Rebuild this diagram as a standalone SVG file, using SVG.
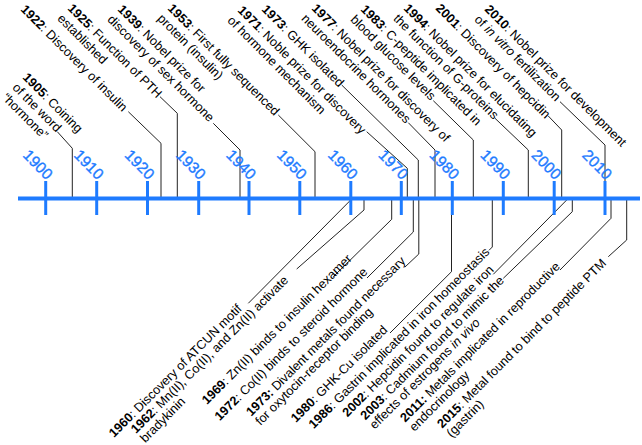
<svg xmlns="http://www.w3.org/2000/svg" width="642" height="445" viewBox="0 0 642 445">
<style>
.ev{font-family:"Liberation Sans",Arial,sans-serif;font-size:12.7px;fill:#000}
.yr{font-weight:bold}
.it{font-style:italic}
.lbl{font-family:"Liberation Sans",Arial,sans-serif;font-size:15.5px;fill:#1e7bff;stroke:#1e7bff;stroke-width:0.35;text-anchor:end}
.ld{fill:none;stroke:#222;stroke-width:1}
.ax{stroke:#1e7bff;stroke-width:4;fill:none}
.tk{stroke:#1e7bff;stroke-width:3;fill:none}
</style>
<rect width="642" height="445" fill="#fff"/>
<g id="connectors">
<polyline class="ld" points="72.3,197 72.3,148.3 57.3,131.7"/>
<polyline class="ld" points="161,197 161,143.3 128.3,111.7"/>
<polyline class="ld" points="177.3,197 177.3,113.3 160,96.7"/>
<polyline class="ld" points="240,197 240,150 213.3,123.3"/>
<polyline class="ld" points="315,197 315,151.7 278.3,115"/>
<polyline class="ld" points="407.3,197 407.3,168.3 366.7,131.7"/>
<polyline class="ld" points="418.3,197 418.3,160 341.7,85"/>
<polyline class="ld" points="435,197 435,150 408.3,122.7"/>
<polyline class="ld" points="473.3,197 473.3,140 433.3,100.7"/>
<polyline class="ld" points="528.3,197 528.3,150 495,118.3"/>
<polyline class="ld" points="561.7,197 561.7,130 548.3,116"/>
<polyline class="ld" points="605,197 605,145 560,101.7"/>
<polyline class="ld" points="350.7,200 248.3,303.3"/>
<polyline class="ld" points="364,200 364,210 296.7,269"/>
<polyline class="ld" points="391.7,200 391.7,219.3 333.3,276.7"/>
<polyline class="ld" points="413.3,200 413.3,232 367,278"/>
<polyline class="ld" points="418.8,200 418.8,254 405,267"/>
<polyline class="ld" points="451.5,200 451.5,271.7 390,333"/>
<polyline class="ld" points="492.3,200 492.3,247 489,250.3"/>
<polyline class="ld" points="566.7,200 493.3,274.3"/>
<polyline class="ld" points="572.3,200 572.3,211.7 503.3,278.3"/>
<polyline class="ld" points="611,200 611,218.3 560,270"/>
<polyline class="ld" points="626.7,200 626.7,240 608.3,256.7"/>
</g>
<g id="axis">
<line class="ax" x1="18" y1="198.5" x2="640" y2="198.5"/>
<line class="tk" x1="45.7" y1="181" x2="45.7" y2="215"/>
<line class="tk" x1="96.7" y1="181" x2="96.7" y2="215"/>
<line class="tk" x1="147.5" y1="181" x2="147.5" y2="215"/>
<line class="tk" x1="198.7" y1="181" x2="198.7" y2="215"/>
<line class="tk" x1="249" y1="181" x2="249" y2="215"/>
<line class="tk" x1="299.8" y1="181" x2="299.8" y2="215"/>
<line class="tk" x1="350.8" y1="181" x2="350.8" y2="215"/>
<line class="tk" x1="401.3" y1="181" x2="401.3" y2="215"/>
<line class="tk" x1="452.3" y1="181" x2="452.3" y2="215"/>
<line class="tk" x1="503.3" y1="181" x2="503.3" y2="215"/>
<line class="tk" x1="554.2" y1="181" x2="554.2" y2="215"/>
<line class="tk" x1="605" y1="181" x2="605" y2="215"/>
<text class="lbl" transform="translate(46.3,180.5) rotate(45)">1900</text>
<text class="lbl" transform="translate(97.3,180.5) rotate(45)">1910</text>
<text class="lbl" transform="translate(148.1,180.5) rotate(45)">1920</text>
<text class="lbl" transform="translate(199.3,180.5) rotate(45)">1930</text>
<text class="lbl" transform="translate(249.6,180.5) rotate(45)">1940</text>
<text class="lbl" transform="translate(300.4,180.5) rotate(45)">1950</text>
<text class="lbl" transform="translate(351.4,180.5) rotate(45)">1960</text>
<text class="lbl" transform="translate(401.9,180.5) rotate(45)">1970</text>
<text class="lbl" transform="translate(452.9,180.5) rotate(45)">1980</text>
<text class="lbl" transform="translate(503.9,180.5) rotate(45)">1990</text>
<text class="lbl" transform="translate(554.8,180.5) rotate(45)">2000</text>
<text class="lbl" transform="translate(605.6,180.5) rotate(45)">2010</text>
</g>
<g id="e1905" transform="translate(22,78) rotate(45)"><text class="ev" y="0"><tspan class="yr">1905</tspan>: Coining</text><text class="ev" y="14.5">of the word</text><text class="ev" y="29">“hormone”</text></g>
<g id="e1922" transform="translate(20,10) rotate(45)"><text class="ev"><tspan class="yr">1922</tspan>: Discovery of insulin</text></g>
<g id="e1925" transform="translate(67,9) rotate(45)"><text class="ev"><tspan class="yr">1925</tspan>: Function of PTH</text><text class="ev" y="14.5">established</text></g>
<g id="e1939" transform="translate(117,10) rotate(45)"><text class="ev"><tspan class="yr">1939</tspan>: Nobel prize for</text><text class="ev" y="14.5">discovery of sex hormone</text></g>
<g id="e1953" transform="translate(167,9) rotate(45)"><text class="ev"><tspan class="yr">1953</tspan>: First fully sequenced</text><text class="ev" y="14.5">protein (insulin)</text></g>
<g id="e1971" transform="translate(237,11) rotate(45)"><text class="ev"><tspan class="yr">1971</tspan>: Noble prize for discovery</text><text class="ev" y="14.5">of hormone mechanism</text></g>
<g id="e1973a" transform="translate(261,10) rotate(45)"><text class="ev"><tspan class="yr">1973</tspan>: GHK isolated</text></g>
<g id="e1977" transform="translate(311,9) rotate(45)"><text class="ev"><tspan class="yr">1977</tspan>: Nobel prize for discovery of</text><text class="ev" y="14.5">neuroendocrine hormones</text></g>
<g id="e1983" transform="translate(360,10) rotate(45)"><text class="ev"><tspan class="yr">1983</tspan>: C-peptide implicated in</text><text class="ev" y="14.5">blood glucose levels</text></g>
<g id="e1994" transform="translate(403,9) rotate(45)"><text class="ev"><tspan class="yr">1994</tspan>: Nobel prize for elucidating</text><text class="ev" y="14.5">the function of G-proteins</text></g>
<g id="e2001" transform="translate(435,9) rotate(45)"><text class="ev"><tspan class="yr">2001</tspan>: Discovery of hepcidin</text></g>
<g id="e2010" transform="translate(484,10) rotate(45)"><text class="ev"><tspan class="yr">2010</tspan>: Nobel prize for development</text><text class="ev" y="14.5">of <tspan class="it">in vitro</tspan> fertilization</text></g>
<g id="e1960" transform="translate(114,438) rotate(-45)"><text class="ev"><tspan class="yr">1960</tspan>: Discovery of ATCUN motif</text></g>
<g id="e1962" transform="translate(136,434) rotate(-45)"><text class="ev"><tspan class="yr">1962</tspan>: Mn(II), Co(II), and Zn(II) activate</text><text class="ev" y="13">bradykinin</text></g>
<g id="e1969" transform="translate(206.9,405.1) rotate(-45)"><text class="ev"><tspan class="yr">1969</tspan>: Zn(II) binds to insulin hexamer</text></g>
<g id="e1972" transform="translate(219.7,421.3) rotate(-45)"><text class="ev"><tspan class="yr">1972</tspan>: Co(II) binds to steroid hormone</text></g>
<g id="e1973b" transform="translate(251.2,416.8) rotate(-45)"><text class="ev"><tspan class="yr">1973:</tspan> Divalent metals found necessary</text><text class="ev" y="13">for oxytocin-receptor binding</text></g>
<g id="e1980" transform="translate(296,423) rotate(-45)"><text class="ev"><tspan class="yr">1980</tspan>: GHK-Cu isolated</text></g>
<g id="e1986" transform="translate(313.7,429.3) rotate(-45)"><text class="ev"><tspan class="yr">1986</tspan>: Gastrin implicated in iron homeostasis</text></g>
<g id="e2002" transform="translate(347.4,417.6) rotate(-45)"><text class="ev"><tspan class="yr">2002</tspan>: Hepcidin found to regulate iron</text></g>
<g id="e2003" transform="translate(365.5,420.5) rotate(-45)"><text class="ev"><tspan class="yr">2003</tspan>: Cadmium found to mimic the</text><text class="ev" y="13">effects of estrogens <tspan class="it">in vivo</tspan></text></g>
<g id="e2011" transform="translate(405.2,422.8) rotate(-45)"><text class="ev"><tspan class="yr">2011:</tspan> Metals implicated in reproductive</text><text class="ev" y="13">endocrinology</text></g>
<g id="e2015" transform="translate(442.3,428.7) rotate(-45)"><text class="ev"><tspan class="yr">2015</tspan>: Metal found to bind to peptide PTM</text><text class="ev" y="13">(gastrin)</text></g>
</svg>
